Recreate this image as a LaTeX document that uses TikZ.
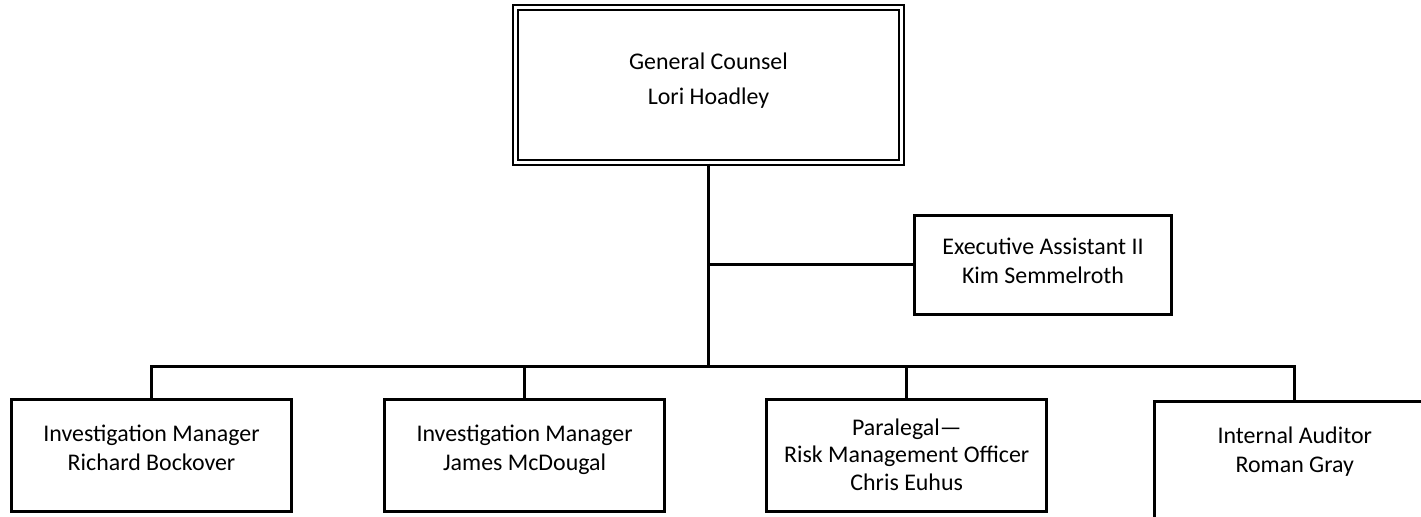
\documentclass[tikz,border=0pt]{standalone}
\usepackage{fontspec}
\setmainfont{Carlito}
\usetikzlibrary{positioning}
\tikzset{
  % Box styles
  headbox/.style={rectangle, draw=black, line width=0.05cm, double, double distance=0.075cm, minimum width=9.65cm, minimum height=3.875cm, align=center, text depth=0.32cm, font=\fontsize{17}{24.9}\selectfont},
  staffbox/.style={rectangle, draw=black, line width=0.075cm, minimum width=6.425cm, minimum height=2.475cm, align=center, text depth=0.2cm, font=\fontsize{17}{20.6}\selectfont},
  unitbox/.style={rectangle, draw=black, line width=0.075cm, minimum width=7cm, minimum height=2.8cm, align=center, text depth=0.4cm, font=\fontsize{17}{20.6}\selectfont},
  % Line styles
  link/.style={draw=black, line width=0.075cm}
}
\begin{document}
\begin{tikzpicture}[x=0.025cm, y=-0.025cm]
  \useasboundingbox (0,0) rectangle (1421,517);
  \clip (0,0) rectangle (1421,517);

  % Head
  \node[headbox] (counsel) at (708.5,85) {General Counsel\\Lori Hoadley};

  % Assistant
  \node[staffbox] (assistant) at (1043,265) {Executive Assistant II\\Kim Semmelroth};

  % Units
  \node[unitbox] (manager1) at (151.5,455.5) {Investigation Manager\\Richard Bockover};
  \node[unitbox, right=2.25cm of manager1] (manager2) {Investigation Manager\\James McDougal};
  \node[unitbox, right=2.475cm of manager2, text depth=0.05cm, font=\fontsize{17}{19.4}\selectfont] (paralegal) {Paralegal—\\Risk Management Officer\\Chris Euhus};
  \node[unitbox, right=2.625cm of paralegal, yshift=-0.15cm, minimum height=3cm, text depth=0.6cm] (auditor) {Internal Auditor\\Roman Gray};

  % Lines
  \coordinate (hub) at (708.5,367);
  \draw[link] (counsel.south) -- (hub);
  \draw[link] (assistant.west) -- (assistant.west -| hub);
  \foreach \unit in {manager1,manager2,paralegal,auditor}
    \draw[link] (hub) -| (\unit.north);
\end{tikzpicture}
\end{document}
